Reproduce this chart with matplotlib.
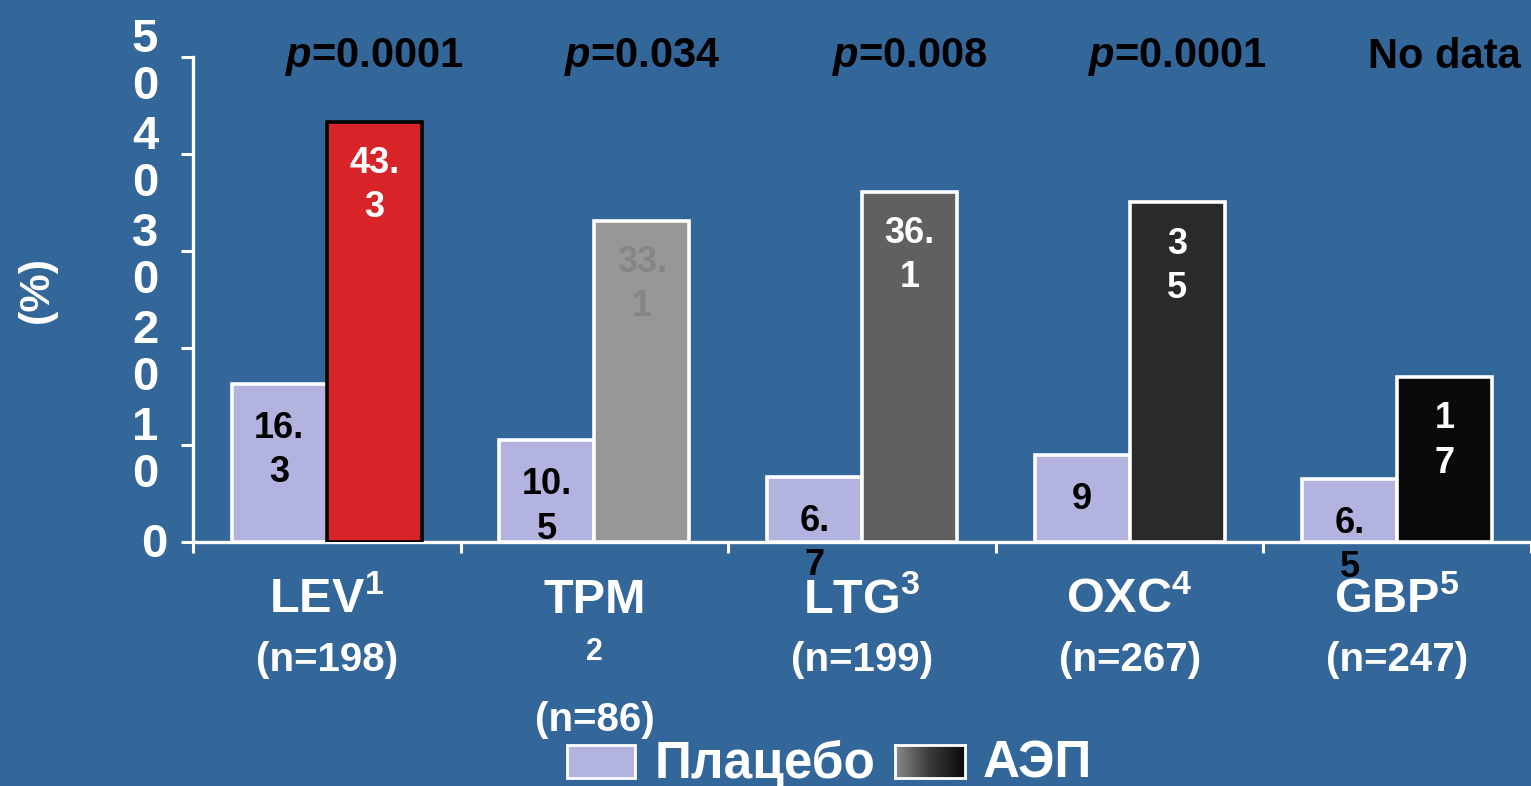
import matplotlib
matplotlib.use("Agg")
import matplotlib.pyplot as plt
import numpy as np
from matplotlib.patches import Rectangle
from matplotlib.colors import LinearSegmentedColormap

plt.rcParams['font.family'] = ['Liberation Sans', 'DejaVu Sans']
plt.rcParams['font.weight'] = 'bold'
plt.rcParams['mathtext.fontset'] = 'custom'
plt.rcParams['mathtext.rm'] = 'Liberation Sans:bold'
plt.rcParams['mathtext.bf'] = 'Liberation Sans:bold'
plt.rcParams['mathtext.it'] = 'Liberation Sans:bold:italic'
plt.rcParams['mathtext.default'] = 'bf'

# ---- data ----
drugs = ["LEV", "TPM", "LTG", "OXC", "GBP"]
refs = ["1", "2", "3", "4", "5"]
n_labels = ["(n=198)", "(n=86)", "(n=199)", "(n=267)", "(n=247)"]
placebo = [16.3, 10.5, 6.7, 9, 6.5]
aed = [43.3, 33.1, 36.1, 35, 17]
placebo_labels = ["16.\n3", "10.\n5", "6.\n7", "9", "6.\n5"]
aed_labels = ["43.\n3", "33.\n1", "36.\n1", "3\n5", "1\n7"]
p_values = ["$\\mathit{p}$=0.0001", "$\\mathit{p}$=0.034", "$\\mathit{p}$=0.008",
            "$\\mathit{p}$=0.0001", "No data"]
y_ticks = [0, 10, 20, 30, 40, 50]
y_tick_labels = ["", "1\n0", "2\n0", "3\n0", "4\n0", "5\n0"]

# ---- styles ----
bg = "#336699"
placebo_color = "#b3b3e0"
aed_colors = ["#d72428", "#979797", "#606060", "#2a2a2a", "#0a0a0a"]
aed_edges = ["black", "white", "white", "white", "white"]
aed_text_colors = ["white", "#858585", "white", "white", "white"]

W, H = 1531, 786
fig = plt.figure(figsize=(W / 100, H / 100), dpi=100, facecolor=bg)
ax = fig.add_axes([193 / W, (H - 542) / H, (W - 193) / W, 485 / H])
ax.set_facecolor(bg)

x = np.arange(len(drugs))
bw = 0.355
ax.bar(x - bw / 2, placebo, bw, color=placebo_color, edgecolor="white", linewidth=2.6, zorder=3)
ax.bar(x + bw / 2, aed, bw, color=aed_colors, edgecolor=aed_edges, linewidth=2.6, zorder=3)

for i in range(len(drugs)):
    ax.annotate(placebo_labels[i], (x[i] - bw / 2, placebo[i]), xytext=(0, -27),
                textcoords="offset pixels", ha="center", va="top", fontsize=26,
                fontweight="bold", color="black", linespacing=1.35, zorder=5,
                annotation_clip=False)
    ax.annotate(aed_labels[i], (x[i] + bw / 2, aed[i]), xytext=(0, -24),
                textcoords="offset pixels", ha="center", va="top", fontsize=26,
                fontweight="bold", color=aed_text_colors[i], linespacing=1.35, zorder=5)
    ax.text(x[i] + bw / 2, 1.0, p_values[i], transform=ax.get_xaxis_transform(),
            ha="center", va="center", fontsize=30, fontweight="bold", color="black")

ax.set_xlim(-0.5, 4.47)
ax.set_ylim(0, 50)

for s in ["top", "right"]:
    ax.spines[s].set_visible(False)
for s in ["left", "bottom"]:
    ax.spines[s].set_color("white")
    ax.spines[s].set_linewidth(2.4)

ax.set_yticks(y_ticks)
ax.set_yticklabels(y_tick_labels)
ax.tick_params(axis="y", colors="white", length=9, width=2.2, direction="out",
               labelsize=34, pad=16)
for lab in ax.get_yticklabels():
    lab.set_fontweight("bold")
    lab.set_linespacing(1.1)
ax.text(-0.019, -0.3, "0", transform=ax.get_yaxis_transform(), ha="right", va="center",
        fontsize=34, fontweight="bold", color="white")

ax.set_xticks(np.arange(-0.5, 4.6, 1.0))
ax.set_xticklabels([])
ax.tick_params(axis="x", colors="white", length=8, width=2.2, direction="out")

ax.text(-0.117, 0.52, "(%)", transform=ax.transAxes, rotation=90, ha="center",
        va="center", fontsize=31, fontweight="bold", color="white")

xt = ax.get_xaxis_transform()
for i in range(len(drugs)):
    if drugs[i] == "TPM":
        ax.text(x[i], -0.12, drugs[i], transform=xt, ha="center", va="center",
                fontsize=35, fontweight="bold", color="white")
        ax.text(x[i], -0.227, refs[i], transform=xt, ha="center", va="center",
                fontsize=22, fontweight="bold", color="white")
        ax.text(x[i], -0.367, n_labels[i], transform=xt, ha="center", va="center",
                fontsize=29, fontweight="bold", color="white")
    else:
        ax.text(x[i], -0.12, drugs[i] + "$^{" + refs[i] + "}$", transform=xt,
                ha="center", va="center", fontsize=35, fontweight="bold", color="white")
        ax.text(x[i], -0.243, n_labels[i], transform=xt, ha="center", va="center",
                fontsize=29, fontweight="bold", color="white")

# ---- legend ----
def fx(px):
    return px / W

def fy(py):
    return (H - py) / H

fig.patches.append(Rectangle((fx(567), fy(778)), fx(635) - fx(567), fy(745) - fy(778),
                             transform=fig.transFigure, facecolor=placebo_color,
                             edgecolor="white", linewidth=2))
fig.text(fx(655), fy(764), "Плацебо", ha="left", va="center", fontsize=37,
         fontweight="bold", color="white")
gax = fig.add_axes([fx(895), fy(778), fx(965) - fx(895), fy(745) - fy(778)])
grad = np.linspace(0, 1, 256).reshape(1, -1)
cmap = LinearSegmentedColormap.from_list("g", ["#8a8a8a", "#3a3a3a", "#0a0a0a"])
gax.imshow(grad, aspect="auto", cmap=cmap, extent=[0, 1, 0, 1])
gax.set_xticks([]); gax.set_yticks([])
for s in gax.spines.values():
    s.set_color("white"); s.set_linewidth(2)
fig.text(fx(983), fy(764), "АЭП", ha="left", va="center", fontsize=37,
         fontweight="bold", color="white")

fig.savefig("out.png", dpi=100, facecolor=bg)
